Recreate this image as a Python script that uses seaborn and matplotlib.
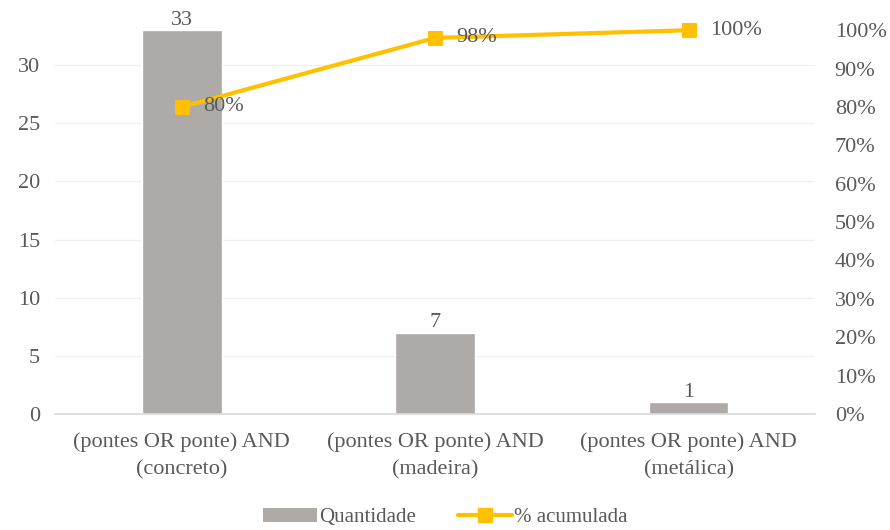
import matplotlib.pyplot as plt
import matplotlib.ticker as mticker
from matplotlib.lines import Line2D
from matplotlib.patches import Patch
import numpy as np
import pandas as pd
import seaborn as sns

categorias = [
    "(pontes OR ponte) AND\n(concreto)",
    "(pontes OR ponte) AND\n(madeira)",
    "(pontes OR ponte) AND\n(metálica)",
]
quantidade = [33, 7, 1]
acumulada = [0.80, 0.98, 1.00]
rotulos_acum = ["80%", "98%", "100%"]

cor_barra = "#ADAAA8"
cor_linha = "#FFC000"
cor_texto = "#595959"

sns.set_theme(style="white")
plt.rcParams["font.family"] = ["Liberation Serif", "DejaVu Serif"]

df = pd.DataFrame({"cat": categorias, "qtd": quantidade, "acum": acumulada})

fig = plt.figure(figsize=(8.9, 5.3), dpi=100)
ax = fig.add_axes([0.062, 0.219, 0.854, 0.724])

sns.barplot(data=df, x="cat", y="qtd", color=cor_barra, width=0.315,
            saturation=1, ax=ax, zorder=2)
ax.set_ylim(0, 33)
ax.set_xlim(-0.5, 2.5)
ax.set_yticks(np.arange(0, 31, 5))
ax.yaxis.grid(True, color="#F0F0F0", linewidth=1, zorder=0)
ax.set_axisbelow(True)
ax.set_xlabel("")
ax.set_ylabel("")
for s in ["top", "right", "left"]:
    ax.spines[s].set_visible(False)
ax.spines["bottom"].set_color("#D9D9D9")
ax.spines["bottom"].set_linewidth(1.2)
ax.tick_params(axis="both", length=0, labelsize=16, colors=cor_texto)
ax.tick_params(axis="y", pad=11)
ax.tick_params(axis="x", pad=13)
for lbl in ax.get_xticklabels():
    lbl.set_linespacing(1.6)

for i, v in enumerate(quantidade):
    ax.text(i, v + 0.05, str(v), ha="center", va="bottom", fontsize=16, color=cor_texto)

ax2 = ax.twinx()
sns.lineplot(data=df, x="cat", y="acum", color=cor_linha, linewidth=3,
             marker="s", markersize=10, markeredgecolor=cor_linha, ax=ax2,
             sort=False, clip_on=False)
ax2.set_ylim(0, 1)
ax2.set_yticks(np.arange(0, 1.01, 0.1))
ax2.yaxis.set_major_formatter(mticker.PercentFormatter(1.0, decimals=0))
ax2.set_ylabel("")
for s in ax2.spines.values():
    s.set_visible(False)
ax2.tick_params(axis="y", length=0, labelsize=16, colors=cor_texto, pad=14)

for i, (v, r) in enumerate(zip(acumulada, rotulos_acum)):
    ax2.text(i + 0.085, v, r, ha="left", va="center", fontsize=16, color=cor_texto)

handles = [
    Patch(facecolor=cor_barra, edgecolor="none"),
    Line2D([0], [0], color=cor_linha, linewidth=3, marker="s", markersize=10),
]
fig.legend(handles, ["Quantidade", "% acumulada"], loc="lower center",
           bbox_to_anchor=(0.5, -0.03), ncol=2, frameon=False, fontsize=15,
           labelcolor=cor_texto, handlelength=2.6, handletextpad=0.1,
           columnspacing=2.0)

fig.savefig("out.png", dpi=100)
